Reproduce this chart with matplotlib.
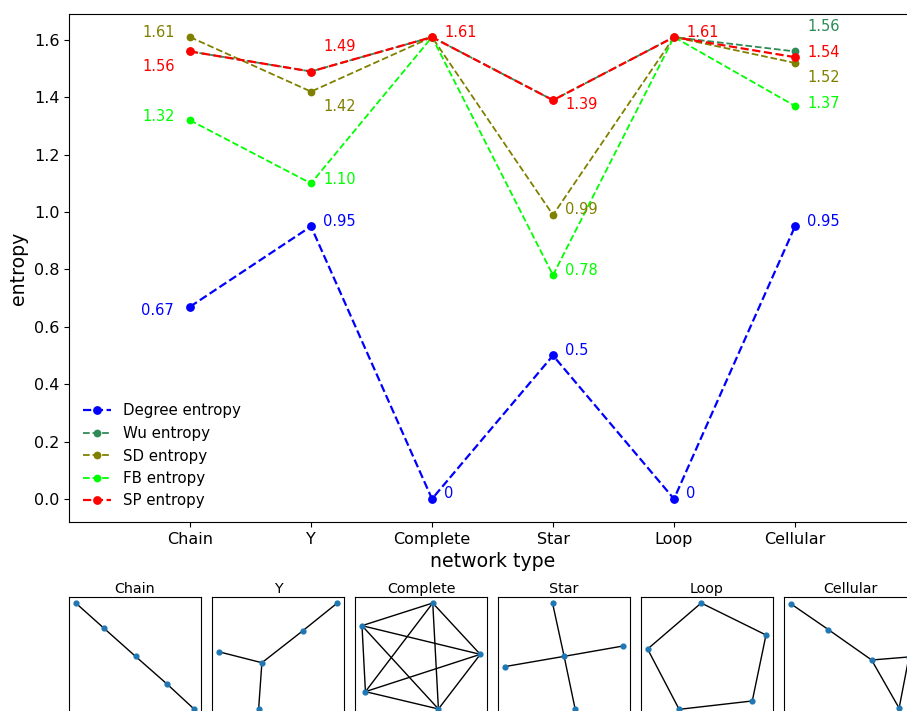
import numpy as np
import matplotlib.pyplot as plt
from itertools import combinations

# network types and entropy values per measure
NETWORKS = ['Chain', 'Y', 'Complete', 'Star', 'Loop', 'Cellular']

degree_entropy = [0.67, 0.95, 0, 0.5, 0, 0.95]
wu_entropy = [1.56, 1.49, 1.61, 1.39, 1.61, 1.56]
sd_entropy = [1.61, 1.42, 1.61, 0.99, 1.61, 1.52]
fb_entropy = [1.32, 1.10, 1.61, 0.78, 1.61, 1.37]
sp_entropy = [1.56, 1.49, 1.61, 1.39, 1.61, 1.54]

# node layouts (x, y) for the small network drawings
chain_pos = [(0.053, 0.947), (0.263, 0.737), (0.504, 0.497), (0.745, 0.260), (0.947, 0.051)]
chain_edges = [(0, 1), (1, 2), (2, 3), (3, 4)]

y_pos = [(0.949, 0.949), (0.688, 0.714), (0.378, 0.443), (0.051, 0.536), (0.353, 0.048)]
y_edges = [(0, 1), (1, 2), (2, 3), (2, 4)]

complete_pos = [(0.589, 0.949), (0.053, 0.757), (0.079, 0.198), (0.632, 0.051), (0.949, 0.514)]
complete_edges = list(combinations(range(5), 2))

star_pos = [(0.413, 0.949), (0.501, 0.497), (0.949, 0.585), (0.051, 0.410), (0.585, 0.048)]
star_edges = [(1, 0), (1, 2), (1, 3), (1, 4)]

loop_pos = [(0.456, 0.949), (0.947, 0.678), (0.843, 0.119), (0.289, 0.048), (0.050, 0.559)]
loop_edges = [(0, 1), (1, 2), (2, 3), (3, 4), (4, 0)]

cellular_pos = [(0.051, 0.943), (0.337, 0.723), (0.664, 0.466), (0.872, 0.058), (0.947, 0.492)]
cellular_edges = [(0, 1), (1, 2), (2, 3), (2, 4), (3, 4)]

graphs = [(chain_pos, chain_edges), (y_pos, y_edges), (complete_pos, complete_edges),
          (star_pos, star_edges), (loop_pos, loop_edges), (cellular_pos, cellular_edges)]

# (values, label, colour, line width, marker size, label format, label offsets in px)
series = [
    (degree_entropy, 'Degree entropy', 'blue', 1.6, 5.3, '{:g}',
     [(-16, -4), (12, 5), (12, 5), (12, 5), (12, 5), (12, 5)]),
    (wu_entropy, 'Wu entropy', 'seagreen', 1.3, 4.6, '{:.2f}',
     [None, None, None, None, None, (12, 25)]),
    (sd_entropy, 'SD entropy', 'olive', 1.3, 4.6, '{:.2f}',
     [(-15, 5), (12, -15), None, (12, 5), None, (12, -15)]),
    (fb_entropy, 'FB entropy', 'lime', 1.3, 4.6, '{:.2f}',
     [(-15, 4), (12, 4), None, (12, 5), None, (12, 2)]),
    (sp_entropy, 'SP entropy', 'red', 1.6, 5.3, '{:.2f}',
     [(-15, -15), (12, 25), (12, 5), (12, -4), (12, 5), (12, 5)]),
]

W, H = 907, 711
fig = plt.figure(figsize=(W / 100, H / 100), dpi=100)

ax = fig.add_axes([69 / W, (H - 522) / H, 847 / W, 508 / H])
x = np.arange(len(NETWORKS))
for vals, name, col, lw, ms, fmt, offs in series:
    ax.plot(x, vals, '--o', color=col, lw=lw, markersize=ms, label=name)
    for xi, v, off in zip(x, vals, offs):
        if off is None:
            continue
        ax.annotate(fmt.format(v), (xi, v), xytext=off, textcoords='offset pixels',
                    ha='left' if off[0] > 0 else 'right', va='center',
                    color=col, fontsize=10.5)

ax.set_xlim(-1, 6)
ax.set_ylim(-0.0805, 1.6905)
ax.set_xticks(x)
ax.set_xticklabels(NETWORKS)
ax.tick_params(labelsize=11.5)
ax.set_xlabel('network type', fontsize=13.6)
ax.set_ylabel('entropy', fontsize=13.6)
ax.legend(loc='lower left', frameon=False, fontsize=10.8, handlelength=1.9)

# small drawings of each network
for i, (name, (pos, edges)) in enumerate(zip(NETWORKS, graphs)):
    left = 69 + i * 143
    sub = fig.add_axes([left / W, (H - 715) / H, 132 / W, 118 / H])
    pos = np.array(pos)
    for a, b in edges:
        sub.plot(pos[[a, b], 0], pos[[a, b], 1], color='black', lw=1, zorder=1)
    sub.scatter(pos[:, 0], pos[:, 1], s=12, color='C0', zorder=2)
    sub.set_xlim(0, 1)
    sub.set_ylim(0, 1)
    sub.set_xticks([])
    sub.set_yticks([])
    sub.set_title(name, fontsize=10.3, pad=3)

fig.savefig('out.png', dpi=100)
